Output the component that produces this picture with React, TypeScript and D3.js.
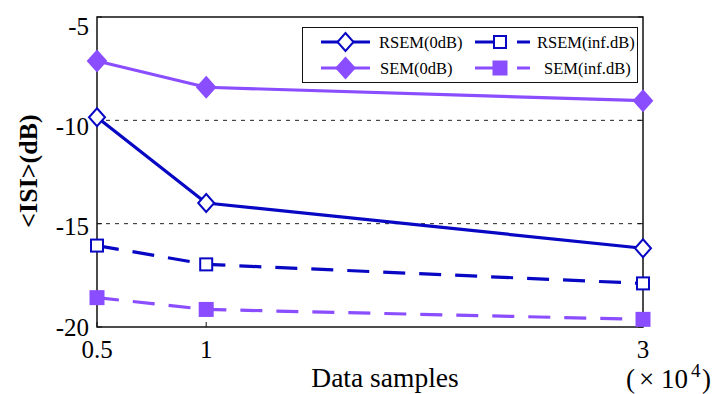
import React, { useEffect, useRef } from 'react';
import * as d3 from 'd3';

// data samples (x10^4)
const samples = [0.5, 1, 3];

const rsem0 = [-9.85, -14.0, -16.19];
const rsemInf = [-16.06, -16.97, -17.89];
const sem0 = [-7.13, -8.4, -9.05];
const semInf = [-18.58, -19.15, -19.63];

const yTicks = [-5, -10, -15, -20];
const xTicks = [0.5, 1, 3];
const gridLines = [-10, -15];

const BLUE = '#0707c4';
const PURPLE = '#8a4dff';
const FONT = 'Liberation Serif';

const seriesList = [
    { name: 'RSEM(0dB)', values: rsem0, color: BLUE, dash: null, marker: 'diamond', filled: false },
    { name: 'RSEM(inf.dB)', values: rsemInf, color: BLUE, dash: '22,14', marker: 'square', filled: false },
    { name: 'SEM(0dB)', values: sem0, color: PURPLE, dash: null, marker: 'diamond', filled: true },
    { name: 'SEM(inf.dB)', values: semInf, color: PURPLE, dash: '22,14', marker: 'square', filled: true },
];

const App: React.FC = () => {
    const svgRef = useRef<SVGSVGElement | null>(null);

    useEffect(() => {
        const width = 727;
        const height = 394;
        const plot = { left: 97, right: 643, top: 17, bottom: 327 };

        const svg = d3.select(svgRef.current)
            .attr('width', width)
            .attr('height', height);
        svg.selectAll('*').remove();

        const xScale = d3.scaleLinear().domain([0.5, 3]).range([plot.left, plot.right]);
        const yScale = d3.scaleLinear().domain([-20, -5]).range([plot.bottom, plot.top]);
        // tick labels sit a little off their ticks in the original figure
        const yLabelScale = d3.scaleLinear().domain([-20, -5]).range([327, 26]);

        svg.append('rect')
            .attr('width', width).attr('height', height).attr('fill', 'white');

        // dotted grid lines
        svg.selectAll('.grid')
            .data(gridLines)
            .enter().append('line')
            .attr('x1', plot.left).attr('x2', plot.right)
            .attr('y1', d => yScale(d)).attr('y2', d => yScale(d))
            .attr('stroke', '#222').attr('stroke-width', 1)
            .attr('stroke-dasharray', '4,5');

        // box
        svg.append('rect')
            .attr('x', plot.left).attr('y', plot.top)
            .attr('width', plot.right - plot.left).attr('height', plot.bottom - plot.top)
            .attr('fill', 'none').attr('stroke', '#111').attr('stroke-width', 1.5);

        // y ticks
        yTicks.forEach(t => {
            svg.append('line')
                .attr('x1', plot.left).attr('x2', plot.left + 5)
                .attr('y1', yScale(t)).attr('y2', yScale(t))
                .attr('stroke', '#111');
            svg.append('line')
                .attr('x1', plot.right - 5).attr('x2', plot.right)
                .attr('y1', yScale(t)).attr('y2', yScale(t))
                .attr('stroke', '#111');
            svg.append('text')
                .attr('x', plot.left - 8).attr('y', yLabelScale(t))
                .attr('text-anchor', 'end').attr('dominant-baseline', 'central')
                .style('font-family', FONT).attr('font-size', 25)
                .text(String(t));
        });

        // x ticks
        xTicks.forEach(t => {
            svg.append('line')
                .attr('x1', xScale(t)).attr('x2', xScale(t))
                .attr('y1', plot.bottom).attr('y2', plot.bottom - 5)
                .attr('stroke', '#111');
            svg.append('text')
                .attr('x', xScale(t)).attr('y', 358)
                .attr('text-anchor', 'middle')
                .style('font-family', FONT).attr('font-size', 25)
                .text(String(t));
        });

        // (x10^4)
        const mult = svg.append('text')
            .attr('y', 388)
            .style('font-family', FONT).attr('font-size', 27);
        mult.append('tspan').attr('x', 626).text('(');
        mult.append('tspan').attr('x', 639).text('\u00d7');
        mult.append('tspan').attr('x', 661).text('10');
        mult.append('tspan').attr('x', 691).attr('y', 377).attr('font-size', 19).text('4');
        mult.append('tspan').attr('x', 702).attr('y', 388).text(')');

        // axis labels
        svg.append('text')
            .attr('x', 385).attr('y', 387)
            .attr('text-anchor', 'middle')
            .style('font-family', FONT).attr('font-size', 27.5)
            .text('Data samples');

        svg.append('text')
            .attr('transform', 'translate(28,171) rotate(-90)')
            .attr('text-anchor', 'middle').attr('dominant-baseline', 'central')
            .style('font-family', FONT).attr('font-size', 26).attr('font-weight', 'bold')
            .text('<ISI>(dB)');

        const drawMarker = (g: any, marker: string, filled: boolean, color: string, cx: number, cy: number) => {
            if (marker === 'diamond') {
                const hw = filled ? 9 : 8;
                const hh = filled ? 10 : 9;
                g.append('path')
                    .attr('d', `M${cx},${cy - hh}L${cx + hw},${cy}L${cx},${cy + hh}L${cx - hw},${cy}Z`)
                    .attr('fill', filled ? color : 'white')
                    .attr('stroke', color).attr('stroke-width', 2);
            } else {
                const s = filled ? 13 : 12;
                g.append('rect')
                    .attr('x', cx - s / 2).attr('y', cy - s / 2)
                    .attr('width', s).attr('height', s)
                    .attr('fill', filled ? color : 'white')
                    .attr('stroke', color).attr('stroke-width', 2);
            }
        };

        const line = d3.line<number>()
            .x((d, i) => xScale(samples[i]))
            .y(d => yScale(d));

        seriesList.forEach(s => {
            const g = svg.append('g');
            g.append('path')
                .attr('d', line(s.values))
                .attr('fill', 'none')
                .attr('stroke', s.color)
                .attr('stroke-width', 3.2)
                .attr('stroke-dasharray', s.dash)
                .attr('stroke-linejoin', 'round');
            s.values.forEach((v, i) => {
                drawMarker(g, s.marker, s.filled, s.color, xScale(samples[i]), yScale(v));
            });
        });

        // legend
        const legend = svg.append('g');
        legend.append('rect')
            .attr('x', 302.5).attr('y', 27.5).attr('width', 335).attr('height', 55)
            .attr('fill', 'white').attr('stroke', '#111').attr('stroke-width', 1);

        const legendPos = [
            { x1: 321, x2: 370, tx: 379, y: 42 },
            { x1: 475, x2: 530, tx: 537, y: 42 },
            { x1: 321, x2: 370, tx: 380, y: 68 },
            { x1: 475, x2: 530, tx: 544, y: 68 },
        ];

        seriesList.forEach((s, i) => {
            const p = legendPos[i];
            legend.append('line')
                .attr('x1', p.x1).attr('x2', p.x2)
                .attr('y1', p.y).attr('y2', p.y)
                .attr('stroke', s.color).attr('stroke-width', 3)
                .attr('stroke-dasharray', s.dash ? '24,18' : null);
            drawMarker(legend, s.marker, s.filled, s.color, s.dash ? 500 : (p.x1 + p.x2) / 2, p.y);
            legend.append('text')
                .attr('x', p.tx).attr('y', p.y)
                .attr('dominant-baseline', 'central')
                .style('font-family', FONT).attr('font-size', 16.5)
                .text(s.name);
        });
    }, []);

    return (
        <svg ref={svgRef} style={{ position: 'absolute', left: 0, top: 0, display: 'block' }} />
    );
};

export default App;
